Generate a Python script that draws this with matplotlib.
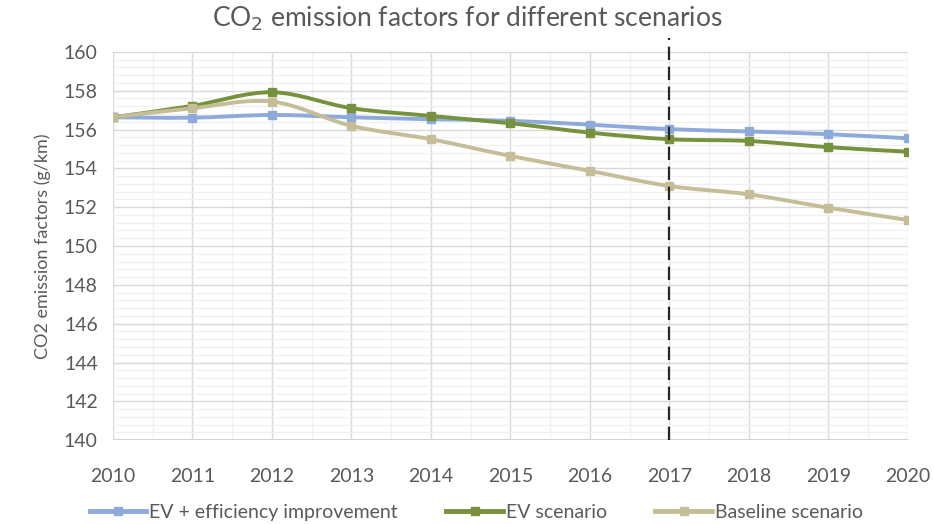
import matplotlib.pyplot as plt
import numpy as np
from matplotlib.path import Path
from matplotlib.patches import PathPatch
from matplotlib.ticker import MultipleLocator

plt.rcParams['font.family'] = ['Lato', 'DejaVu Sans']

years = [2010, 2011, 2012, 2013, 2014, 2015, 2016, 2017, 2018, 2019, 2020]
ev_eff = [156.63, 156.61, 156.75, 156.63, 156.53, 156.45, 156.25, 156.02, 155.9, 155.76, 155.55]
ev = [156.63, 157.22, 157.92, 157.1, 156.7, 156.32, 155.84, 155.5, 155.41, 155.09, 154.86]
baseline = [156.63, 157.1, 157.44, 156.19, 155.5, 154.64, 153.87, 153.09, 152.66, 151.97, 151.34]
labels = ['EV + efficiency improvement', 'EV scenario', 'Baseline scenario']
colors = ['#8eaadb', '#76923c', '#c4bd97']

grey = '#595959'

fig = plt.figure(figsize=(9.34, 5.24), dpi=100)
ax = fig.add_axes([0.121, 0.160, 0.851, 0.741])


def smooth_path(x, y):
    # Excel-like smoothed line: cubic bezier through the points
    x = np.asarray(x, float)
    y = np.asarray(y, float)
    pts = np.column_stack([x, y])
    verts = [pts[0]]
    codes = [Path.MOVETO]
    n = len(pts)
    for i in range(n - 1):
        p0 = pts[max(i - 1, 0)]
        p1 = pts[i]
        p2 = pts[i + 1]
        p3 = pts[min(i + 2, n - 1)]
        c1 = p1 + (p2 - p0) / 6
        c2 = p2 - (p3 - p1) / 6
        verts += [c1, c2, p2]
        codes += [Path.CURVE4] * 3
    return Path(verts, codes)


for vals, lab, c in zip([ev_eff, ev, baseline], labels, colors):
    ax.add_patch(PathPatch(smooth_path(years, vals), fill=False, edgecolor=c,
                           lw=2.8, zorder=3, capstyle='round'))
    ax.plot(years, vals, ls='none', marker='s', ms=6, color=c, zorder=4)
    ax.plot([], [], color=c, lw=3.5, marker='s', ms=6, label=lab)

ax.plot([2017, 2017], [140, 160.7], color='#262626', lw=1.6, ls=(0, (6, 3)),
        clip_on=False, zorder=5)

ax.set_xlim(2010, 2020)
ax.set_ylim(140, 160)
ax.xaxis.set_major_locator(MultipleLocator(1))
ax.xaxis.set_minor_locator(MultipleLocator(0.5))
ax.yaxis.set_major_locator(MultipleLocator(2))
ax.yaxis.set_minor_locator(MultipleLocator(0.4))
ax.grid(which='major', color='#d9d9d9', lw=1.0)
ax.grid(which='minor', color='#f0f0f0', lw=0.9)
ax.set_axisbelow(True)
for s in ax.spines.values():
    s.set_visible(False)
ax.axhline(140, color='#d0d0d0', lw=1.3, zorder=1)
ax.tick_params(which='both', length=0, labelsize=14, colors=grey)
ax.tick_params(axis='x', pad=20)
ax.tick_params(axis='y', pad=11)

ax.set_ylabel('CO2 emission factors (g/km)', fontsize=13, color=grey, labelpad=9)
fig.text(0.5, 0.965, 'CO$_2$ emission factors for different scenarios', ha='center',
         va='center', fontsize=19, color=grey)

fig.legend(loc='center', bbox_to_anchor=(0.51, 0.022), ncol=3, frameon=False,
           fontsize=14, labelcolor=grey, handlelength=2.9, handletextpad=0.15,
           columnspacing=2.5)

fig.savefig('out.png', dpi=100)
